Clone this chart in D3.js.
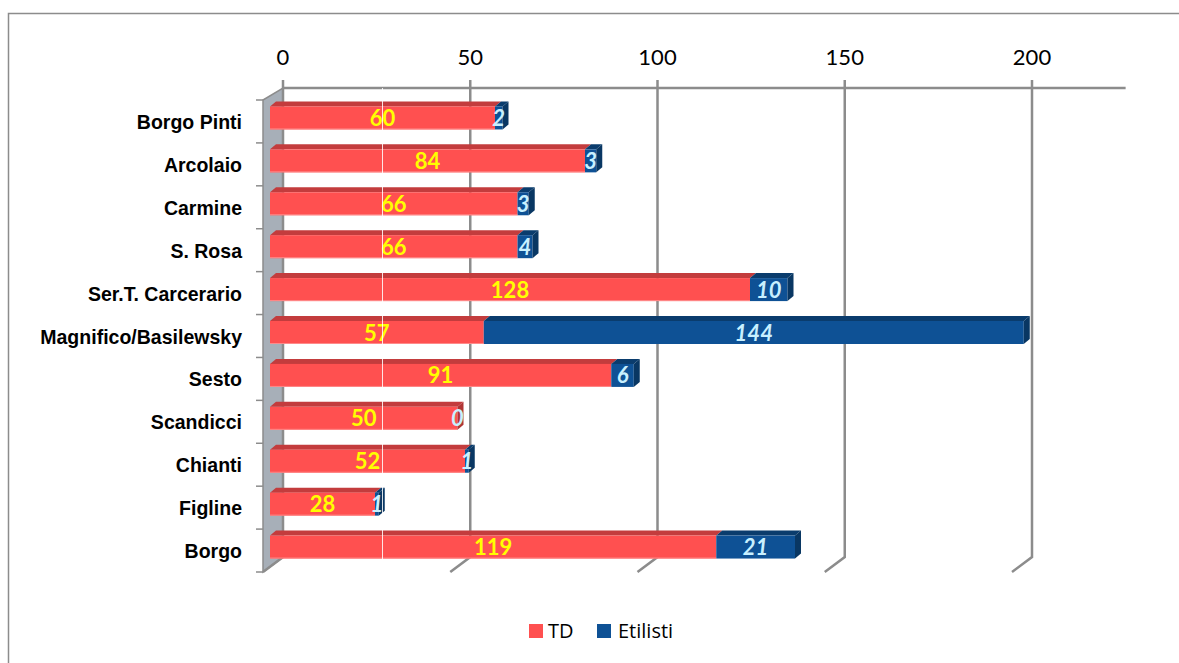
<!DOCTYPE html>
<html>
<head>
<meta charset="utf-8">
<script src="https://cdn.jsdelivr.net/npm/d3@7"></script>
<style>
  body { margin: 0; background: #fff; }
  svg { display: block; }
</style>
</head>
<body>
<div id="chart"></div>
<script>
const categories = ['Borgo Pinti', 'Arcolaio', 'Carmine', 'S. Rosa', 'Ser.T. Carcerario',
  'Magnifico/Basilewsky', 'Sesto', 'Scandicci', 'Chianti', 'Figline', 'Borgo']
const td = [60, 84, 66, 66, 128, 57, 91, 50, 52, 28, 119]
const etilisti = [2, 3, 3, 4, 10, 144, 6, 0, 1, 1, 21]
const tickValues = [0, 50, 100, 150, 200]
const seriesNames = ['TD', 'Etilisti']

const width = 1179
const height = 663

const svg = d3
  .select('#chart')
  .append('svg')
  .attr('width', width)
  .attr('height', height)

// outer frame (only left and top edges visible)
svg
  .append('path')
  .attr('d', 'M8.5,700 L8.5,13.5 L1200,13.5')
  .attr('fill', 'none')
  .attr('stroke', '#8c8c8c')
  .attr('stroke-width', 1.5)

// back plane scale and front (bars) scale
const xBack = d3.scaleLinear().domain([0, 200]).range([283, 1032])
const xFront = d3.scaleLinear().domain([0, 200]).range([270, 1020])
const yBand = d3.scaleBand().domain(categories).range([100, 572]).padding(0)

const backTop = 88
const backBottom = 557
const depthX = -20
const depthY = 15
const gridColor = '#8c8c8c'

// left wall
svg
  .append('path')
  .attr('d', `M${xBack(0)},${backTop} L${xBack(0)},${backBottom} L${xBack(0) + depthX},${backBottom + depthY} L${xBack(0) + depthX},${backTop + 12} Z`)
  .attr('fill', '#a7afb8')
  .attr('stroke', gridColor)
  .attr('stroke-width', 1.5)

// gridlines
tickValues.forEach(v => {
  const x = xBack(v)
  svg
    .append('path')
    .attr('d', `M${x},${backTop - 8} L${x},${backBottom} L${x + depthX},${backBottom + depthY}`)
    .attr('fill', 'none')
    .attr('stroke', gridColor)
    .attr('stroke-width', 2.5)
})

// top axis line
svg
  .append('line')
  .attr('x1', xBack(0))
  .attr('x2', xBack(225))
  .attr('y1', backTop)
  .attr('y2', backTop)
  .attr('stroke', gridColor)
  .attr('stroke-width', 2.5)

// top axis labels
svg
  .selectAll('.tick-label')
  .data(tickValues)
  .enter()
  .append('text')
  .attr('class', 'tick-label')
  .attr('x', d => xBack(d))
  .attr('y', 65)
  .attr('text-anchor', 'middle')
  .style('font-family', 'Lato, "Open Sans", sans-serif')
  .style('font-size', '22px')
  .attr('fill', '#000')
  .text(d => d)

// category ticks on the front edge of the wall
const tickYs = categories.map(c => yBand(c)).concat([yBand.range()[1]])
svg
  .selectAll('.cat-tick')
  .data(tickYs)
  .enter()
  .append('line')
  .attr('x1', xBack(0) + depthX - 7)
  .attr('x2', xBack(0) + depthX)
  .attr('y1', d => d)
  .attr('y2', d => d)
  .attr('stroke', gridColor)
  .attr('stroke-width', 1.5)

// category labels (narrow bold)
svg
  .selectAll('.cat-label')
  .data(categories)
  .enter()
  .append('text')
  .attr('class', 'cat-label')
  .attr('transform', d => `translate(242,${yBand(d) + yBand.bandwidth() / 2 + 7.5}) scale(0.93,1)`)
  .attr('text-anchor', 'end')
  .style('font-family', '"Liberation Sans", Arial, sans-serif')
  .style('font-weight', 'bold')
  .style('font-size', '21px')
  .attr('fill', '#000')
  .text(d => d)

// bars
const faceH = 23
const topDx = 6
const topDy = 5
const colors = {
  TD: { front: '#ff5050', top: '#c33c3d', side: '#b03535', label: '#ffff00' },
  Etilisti: { front: '#0e5195', top: '#0a3c6d', side: '#093763', label: '#c8f0ff' }
}

const rows = categories.map((c, i) => ({ cat: c, td: td[i], et: etilisti[i] }))

const barGroups = svg
  .selectAll('.bar')
  .data(rows)
  .enter()
  .append('g')
  .attr('class', 'bar')

barGroups.each(function(d) {
  const g = d3.select(this)
  const yc = yBand(d.cat) + yBand.bandwidth() / 2 - 3.5
  const y0 = yc - faceH / 2
  const segs = [
    { name: 'TD', x0: xFront(0), x1: xFront(d.td), value: d.td },
    { name: 'Etilisti', x0: xFront(d.td), x1: xFront(d.td + d.et), value: d.et }
  ]
  segs.forEach(s => {
    const col = colors[s.name]
    g.append('path')
      .attr('d', `M${s.x0},${y0} L${s.x0 + topDx},${y0 - topDy} L${s.x1 + topDx},${y0 - topDy} L${s.x1},${y0} Z`)
      .attr('fill', col.top)
    g.append('rect')
      .attr('x', s.x0)
      .attr('y', y0)
      .attr('width', Math.max(0, s.x1 - s.x0))
      .attr('height', faceH)
      .attr('fill', col.front)
  })
  // bottom highlight of the red bar
  g.append('line')
    .attr('x1', xFront(0))
    .attr('x2', xFront(d.td))
    .attr('y1', y0 + faceH - 0.5)
    .attr('y2', y0 + faceH - 0.5)
    .attr('stroke', '#ff8a8a')
    .attr('stroke-width', 1)
  // right side face
  const xe = xFront(d.td + d.et)
  g.append('path')
    .attr('d', `M${xe},${y0} L${xe + topDx},${y0 - topDy} L${xe + topDx},${y0 + faceH - topDy} L${xe},${y0 + faceH} Z`)
    .attr('fill', d.et > 0 ? colors.Etilisti.side : colors.TD.side)

  segs.forEach(s => {
    g.append('text')
      .attr('x', (s.x0 + s.x1) / 2)
      .attr('y', yc + 8)
      .attr('text-anchor', 'middle')
      .style('font-family', 'Lato, "Open Sans", sans-serif')
      .style('font-weight', 'bold')
      .style('font-style', s.name === 'Etilisti' ? 'italic' : 'normal')
      .style('font-size', '22px')
      .attr('fill', colors[s.name].label)
      .text(s.value)
  })
})

// faint see-through line over the bars
svg
  .append('line')
  .attr('x1', xFront(30))
  .attr('x2', xFront(30))
  .attr('y1', backTop)
  .attr('y2', 565)
  .attr('stroke', '#ffffff')
  .attr('stroke-width', 1)
  .attr('opacity', 0.85)

// legend
const legend = svg
  .selectAll('.legend')
  .data(seriesNames)
  .enter()
  .append('g')
  .attr('class', 'legend')
  .attr('transform', (d, i) => `translate(${i === 0 ? 529 : 597},624)`)

legend
  .append('rect')
  .attr('width', 14)
  .attr('height', 14)
  .attr('fill', d => colors[d].front)

legend
  .append('text')
  .attr('x', d => (d === 'TD' ? 19 : 21))
  .attr('y', 14)
  .style('font-family', '"Open Sans", Lato, sans-serif')
  .style('font-size', '20px')
  .attr('fill', '#000')
  .text(d => d)
</script>
</body>
</html>
